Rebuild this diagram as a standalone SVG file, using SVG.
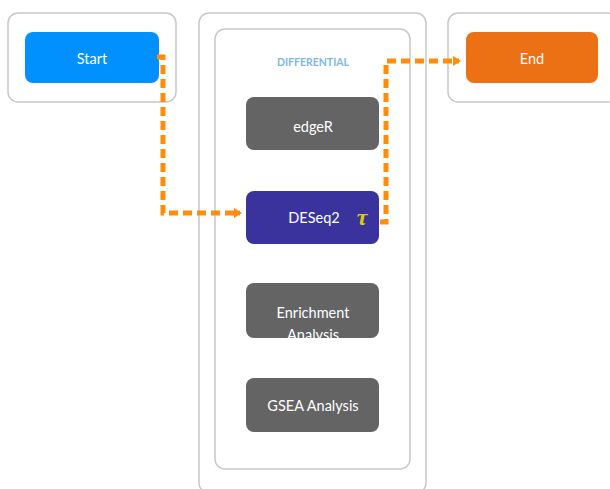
<svg xmlns="http://www.w3.org/2000/svg" width="610" height="489" viewBox="0 0 610 489">
<defs>
<style>
.frame{fill:#fff;stroke:#c8c8c8;stroke-width:1.5}
.lbl{font-family:Lato,"Open Sans","Liberation Sans",sans-serif;font-size:14.5px;fill:#fff;text-anchor:middle}
.gray{fill:#646464}
.conn{fill:none;stroke:#ff8c0a;stroke-width:5;stroke-dasharray:9 5}
</style>
<marker id="arr" markerWidth="8" markerHeight="10" refX="6" refY="5" orient="auto" markerUnits="userSpaceOnUse">
<path d="M0,0 L8,5 L0,10 Z" fill="#ff8c0a"/>
</marker>
<clipPath id="clipEnr"><rect x="246" y="283" width="133" height="55" rx="8"/></clipPath>
</defs>
<rect width="610" height="489" fill="#fff"/>
<g id="frames">
<rect class="frame" x="8" y="13" width="168" height="89" rx="10"/>
<rect class="frame" x="199" y="13" width="227" height="480" rx="10"/>
<rect class="frame" x="215" y="29" width="195" height="440" rx="10"/>
<rect class="frame" x="448" y="13" width="170" height="89" rx="10"/>
<text x="313" y="66" font-family="Lato,'Open Sans','Liberation Sans',sans-serif" font-size="10.5" font-weight="bold" fill="#7db9e0" text-anchor="middle">DIFFERENTIAL</text>
</g>
<g id="start">
<rect x="25" y="32" width="134" height="51" rx="8" fill="#0091ff"/>
<text class="lbl" x="92" y="64">Start</text>
</g>
<g id="edgeR">
<rect class="gray" x="246" y="97" width="133" height="53" rx="8"/>
<text class="lbl" x="313" y="132">edgeR</text>
</g>
<g id="deseq2">
<rect x="246" y="191" width="133" height="53" rx="8" fill="#3a339e"/>
<text class="lbl" x="314" y="223">DESeq2</text>
<text x="362" y="225" font-family="'Liberation Serif',serif" font-style="italic" font-weight="bold" font-size="24" fill="#d8cc10" text-anchor="middle">τ</text>
</g>
<g id="enrichment">
<rect class="gray" x="246" y="283" width="133" height="55" rx="8"/>
<g clip-path="url(#clipEnr)">
<text class="lbl" x="313" y="318">Enrichment</text>
<text class="lbl" x="313" y="340">Analysis</text>
</g>
</g>
<g id="gsea">
<rect class="gray" x="246" y="378" width="133" height="54" rx="8"/>
<text class="lbl" x="313" y="411">GSEA Analysis</text>
</g>
<g id="end">
<rect x="466" y="32" width="132" height="51" rx="8" fill="#ec7014"/>
<text class="lbl" x="532" y="64">End</text>
</g>
<g id="connectors">
<path class="conn" d="M157,57 H163 V213 H240" marker-end="url(#arr)"/>
<path class="conn" d="M380,222 H386 V61 H459" marker-end="url(#arr)"/>
</g>
</svg>
